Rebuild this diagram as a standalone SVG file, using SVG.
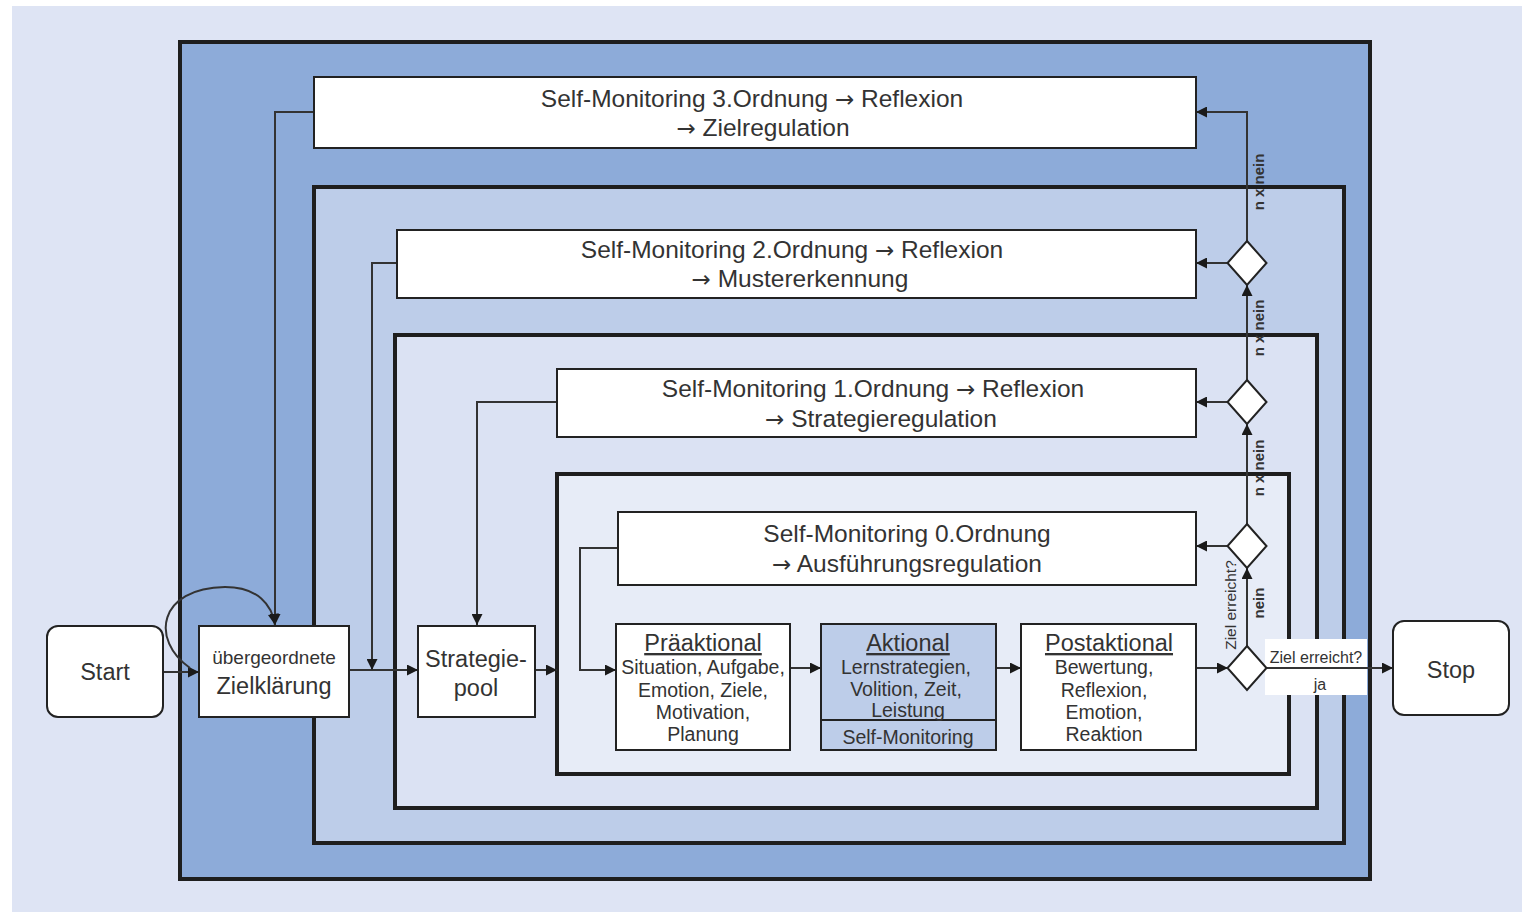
<svg xmlns="http://www.w3.org/2000/svg" width="1522" height="912" viewBox="0 0 1522 912">
<defs>
<marker id="arr" viewBox="0 0 10 10" refX="10" refY="5" markerWidth="12" markerHeight="11" markerUnits="userSpaceOnUse" orient="auto"><path d="M0,0 L10,5 L0,10 z" fill="#1a1a1a"/></marker>
<style>
text{font-family:"Liberation Sans",Arial,sans-serif;fill:#333;}
.big{font-size:23.5px;text-anchor:middle;}
.top{font-size:24.5px;}
.det{font-size:19.5px;text-anchor:middle;}
.lbl{font-size:16px;text-anchor:middle;}
.ar{font-family:"DejaVu Sans",sans-serif;font-size:23px;}
.lay{stroke:#1e1e1e;stroke-width:4;}
.node{fill:#fff;stroke:#222;stroke-width:2;}
.con{fill:none;stroke:#333;stroke-width:2;}
.dia{fill:#fff;stroke:#222;stroke-width:2;}
</style>
</defs>
<rect x="0" y="0" width="1522" height="912" fill="#fff"/>
<rect x="12" y="6" width="1510" height="906" fill="#dee4f4"/>
<g id="layers">
<rect class="lay" x="180" y="42" width="1190" height="837" fill="#8dabd9"/>
<rect class="lay" x="314" y="187" width="1030" height="656" fill="#bdcde9"/>
<rect class="lay" x="395" y="335" width="922" height="473" fill="#dbe2f3"/>
<rect class="lay" x="557" y="474" width="732" height="300" fill="#e7ecf7"/>
</g>
<g id="connectors">
<path class="con" d="M163,672 H199" marker-end="url(#arr)"/>
<path class="con" d="M190,668 C150,640 158,588 225,587 C258,587 272,605 275,625" marker-end="url(#arr)"/>
<path class="con" d="M314,112 H275 V625" marker-end="url(#arr)"/>
<path class="con" d="M349,670 H418" marker-end="url(#arr)"/>
<path class="con" d="M397,263 H372 V670" marker-end="url(#arr)"/>
<path class="con" d="M557,402 H477 V625" marker-end="url(#arr)"/>
<path class="con" d="M535,670 H557" marker-end="url(#arr)"/>
<path class="con" d="M618,548 H580 V670 H616" marker-end="url(#arr)"/>
<path class="con" d="M790,668 H821" marker-end="url(#arr)"/>
<path class="con" d="M996,668 H1021" marker-end="url(#arr)"/>
<path class="con" d="M1196,668 H1228" marker-end="url(#arr)"/>
<path class="con" d="M1247,646 V568" marker-end="url(#arr)"/>
<path class="con" d="M1228,546 H1196" marker-end="url(#arr)"/>
<path class="con" d="M1247,524 V424" marker-end="url(#arr)"/>
<path class="con" d="M1228,402 H1196" marker-end="url(#arr)"/>
<path class="con" d="M1247,380 V285" marker-end="url(#arr)"/>
<path class="con" d="M1228,263 H1196" marker-end="url(#arr)"/>
<path class="con" d="M1247,241 V112 H1196" marker-end="url(#arr)"/>
<rect x="1265" y="639" width="102" height="56" fill="#fff"/>
<path class="con" d="M1267,668 H1393" marker-end="url(#arr)"/>
<text class="lbl" x="1316" y="663">Ziel erreicht?</text>
<text class="lbl" x="1320" y="690">ja</text>
<text class="lbl" transform="translate(1264,603) rotate(-90)" style="font-weight:bold;font-size:15px">nein</text>
<text class="lbl" transform="translate(1236,605) rotate(-90)" style="font-size:15.5px">Ziel erreicht?</text>
<text class="lbl" transform="translate(1264,468) rotate(-90)" style="font-weight:bold;font-size:15px">n x nein</text>
<text class="lbl" transform="translate(1264,328) rotate(-90)" style="font-weight:bold;font-size:15px">n x nein</text>
<text class="lbl" transform="translate(1264,182) rotate(-90)" style="font-weight:bold;font-size:15px">n x nein</text>
</g>
<g id="sm3"><rect class="node" x="314" y="77" width="882" height="71"/>
<text class="big top" x="752" y="107">Self-Monitoring 3.Ordnung <tspan class="ar">→</tspan> Reflexion</text>
<text class="big top" x="763" y="136"><tspan class="ar">→</tspan> Zielregulation</text></g>
<g id="sm2"><rect class="node" x="397" y="230" width="799" height="68"/>
<text class="big top" x="792" y="258">Self-Monitoring 2.Ordnung <tspan class="ar">→</tspan> Reflexion</text>
<text class="big top" x="800" y="287"><tspan class="ar">→</tspan> Mustererkennung</text></g>
<g id="sm1"><rect class="node" x="557" y="369" width="639" height="68"/>
<text class="big top" x="873" y="397">Self-Monitoring 1.Ordnung <tspan class="ar">→</tspan> Reflexion</text>
<text class="big top" x="881" y="427"><tspan class="ar">→</tspan> Strategieregulation</text></g>
<g id="sm0"><rect class="node" x="618" y="512" width="578" height="73"/>
<text class="big top" x="907" y="542">Self-Monitoring 0.Ordnung</text>
<text class="big top" x="907" y="572"><tspan class="ar">→</tspan> Ausführungsregulation</text></g>
<g id="start"><rect class="node" x="47" y="626" width="116" height="91" rx="11"/>
<text class="big" x="105" y="680">Start</text></g>
<g id="ziel"><rect class="node" x="199" y="626" width="150" height="91"/>
<text class="det" x="274" y="664" style="font-size:19px">übergeordnete</text>
<text class="big" x="274" y="694">Zielklärung</text></g>
<g id="pool"><rect class="node" x="418" y="626" width="117" height="91"/>
<text class="big" x="476" y="667">Strategie-</text>
<text class="big" x="476" y="696">pool</text></g>
<g id="prae"><rect class="node" x="616" y="624" width="174" height="126"/>
<text class="big" x="703" y="651" text-decoration="underline">Präaktional</text>
<text class="det" x="703" y="674">Situation, Aufgabe,</text>
<text class="det" x="703" y="697">Emotion, Ziele,</text>
<text class="det" x="703" y="719">Motivation,</text>
<text class="det" x="703" y="741">Planung</text></g>
<g id="akt"><rect class="node" x="821" y="624" width="175" height="126" style="fill:#bdcde9"/>
<line x1="821" y1="720" x2="996" y2="720" stroke="#222" stroke-width="2"/>
<text class="big" x="908" y="651" text-decoration="underline">Aktional</text>
<text class="det" x="906" y="674">Lernstrategien,</text>
<text class="det" x="906" y="696">Volition, Zeit,</text>
<text class="det" x="908" y="717">Leistung</text>
<text class="det" x="908" y="744">Self-Monitoring</text></g>
<g id="post"><rect class="node" x="1021" y="624" width="175" height="126"/>
<text class="big" x="1109" y="651" text-decoration="underline">Postaktional</text>
<text class="det" x="1104" y="674">Bewertung,</text>
<text class="det" x="1104" y="697">Reflexion,</text>
<text class="det" x="1104" y="719">Emotion,</text>
<text class="det" x="1104" y="741">Reaktion</text></g>
<g id="d3"><path class="dia" d="M1247,646 L1266.5,668 L1247,690 L1227.5,668 z"/></g>
<g id="d2"><path class="dia" d="M1247,524 L1266.5,546 L1247,568 L1227.5,546 z"/></g>
<g id="d1"><path class="dia" d="M1247,380 L1266.5,402 L1247,424 L1227.5,402 z"/></g>
<g id="d0"><path class="dia" d="M1247,241 L1266.5,263 L1247,285 L1227.5,263 z"/></g>
<g id="stop"><rect class="node" x="1393" y="621" width="116" height="94" rx="11"/>
<text class="big" x="1451" y="678">Stop</text></g>
</svg>
